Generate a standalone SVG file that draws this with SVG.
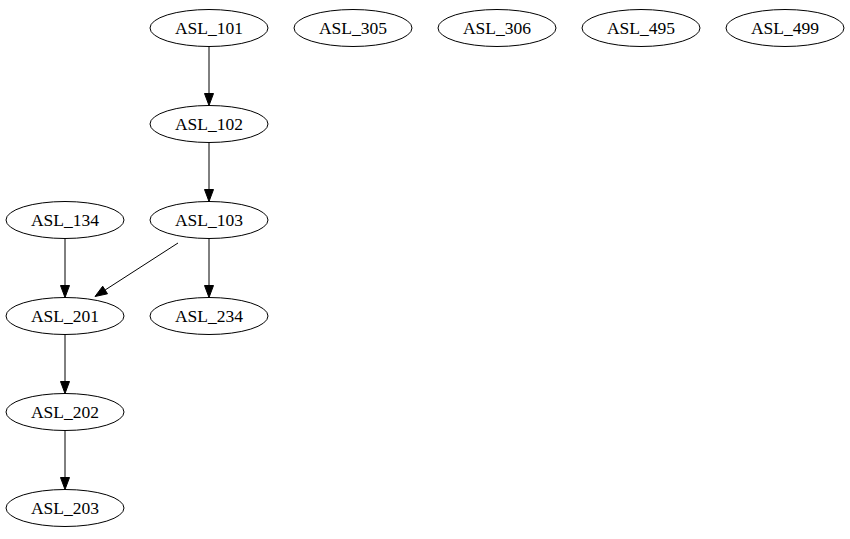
<svg xmlns="http://www.w3.org/2000/svg" width="850" height="539" viewBox="0 0 850 539">
<style>
.n ellipse{fill:none;stroke:#000;stroke-width:1}
.n text{font-family:"Liberation Serif","Times New Roman",serif;font-size:17.5px;text-anchor:middle;fill:#000}
.e line{stroke:#000;stroke-width:1}
.e polygon{fill:#000;stroke:#000;stroke-width:1}
</style>
<rect width="850" height="539" fill="#fff"/>
<g class="n" id="ASL_101"><ellipse cx="209" cy="28" rx="59" ry="18.5"/><text x="209" y="34">ASL_101</text></g>
<g class="n" id="ASL_305"><ellipse cx="353" cy="28" rx="59" ry="18.5"/><text x="353" y="34">ASL_305</text></g>
<g class="n" id="ASL_306"><ellipse cx="497" cy="28" rx="59" ry="18.5"/><text x="497" y="34">ASL_306</text></g>
<g class="n" id="ASL_495"><ellipse cx="641" cy="28" rx="59" ry="18.5"/><text x="641" y="34">ASL_495</text></g>
<g class="n" id="ASL_499"><ellipse cx="785" cy="28" rx="59" ry="18.5"/><text x="785" y="34">ASL_499</text></g>
<g class="n" id="ASL_102"><ellipse cx="209" cy="124" rx="59" ry="18.5"/><text x="209" y="130">ASL_102</text></g>
<g class="n" id="ASL_134"><ellipse cx="65" cy="220" rx="59" ry="18.5"/><text x="65" y="226">ASL_134</text></g>
<g class="n" id="ASL_103"><ellipse cx="209" cy="220" rx="59" ry="18.5"/><text x="209" y="226">ASL_103</text></g>
<g class="n" id="ASL_201"><ellipse cx="65" cy="316" rx="59" ry="18.5"/><text x="65" y="322">ASL_201</text></g>
<g class="n" id="ASL_234"><ellipse cx="209" cy="316" rx="59" ry="18.5"/><text x="209" y="322">ASL_234</text></g>
<g class="n" id="ASL_202"><ellipse cx="65" cy="412" rx="59" ry="18.5"/><text x="65" y="418">ASL_202</text></g>
<g class="n" id="ASL_203"><ellipse cx="65" cy="508" rx="59" ry="18.5"/><text x="65" y="514">ASL_203</text></g>
<g class="e" id="edges">
<line x1="209" y1="46.5" x2="209" y2="93.5"/><polygon points="204.5,93.5 213.5,93.5 209,105.5"/>
<line x1="209" y1="142.5" x2="209" y2="189.5"/><polygon points="204.5,189.5 213.5,189.5 209,201.5"/>
<line x1="65" y1="238.5" x2="65" y2="285.5"/><polygon points="60.5,285.5 69.5,285.5 65,297.5"/>
<line x1="209" y1="238.5" x2="209" y2="285.5"/><polygon points="204.5,285.5 213.5,285.5 209,297.5"/>
<line x1="178" y1="243" x2="105.1" y2="290"/><polygon points="107.5,293.8 102.7,286.2 95,296.5"/>
<line x1="65" y1="334.5" x2="65" y2="381.5"/><polygon points="60.5,381.5 69.5,381.5 65,393.5"/>
<line x1="65" y1="430.5" x2="65" y2="477.5"/><polygon points="60.5,477.5 69.5,477.5 65,489.5"/>
</g>
</svg>
